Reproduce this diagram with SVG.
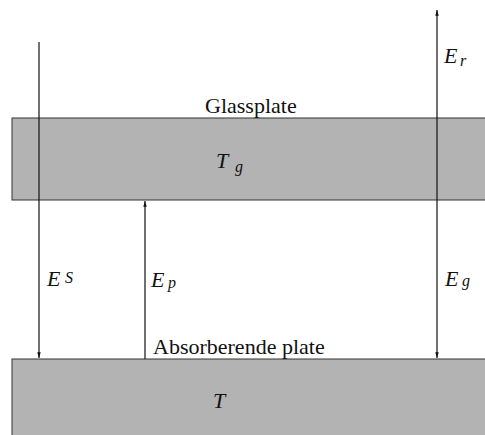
<svg xmlns="http://www.w3.org/2000/svg" width="485" height="435" viewBox="0 0 485 435">
<defs>
<style>
.plate{fill:#b3b3b3;stroke:#333;stroke-width:1}
.ln{stroke:#111;stroke-width:1.2;fill:none}
text{font-family:'Liberation Serif','Times New Roman','DejaVu Serif',serif;fill:#111}
.lbl{font-size:22px}
.it{font-style:italic;font-size:22px}
.sub{font-size:16px}
</style>
<marker id="ah" viewBox="0 0 10 6" refX="10" refY="3" markerWidth="8" markerHeight="3.5" markerUnits="userSpaceOnUse" orient="auto"><path d="M0,0 L10,3 L0,6 z" fill="#111"/></marker>
</defs>
<g id="glassplate">
<rect class="plate" x="12" y="118" width="480" height="82"/>
<text class="lbl" x="205" y="113">Glassplate</text>
<text class="it" x="216" y="168">T</text><text class="it sub" x="235" y="172">g</text>
</g>
<g id="absorber">
<rect class="plate" x="12" y="359" width="480" height="80"/>
<text class="lbl" x="153" y="354">Absorberende plate</text>
<text class="it" x="213" y="408">T</text>
</g>
<g id="connectors">
<line class="ln" x1="39" y1="42" x2="39" y2="358" marker-end="url(#ah)"/>
<line class="ln" x1="145" y1="359" x2="145" y2="201" marker-end="url(#ah)"/>
<line class="ln" x1="437" y1="118" x2="437" y2="10" marker-end="url(#ah)"/>
<line class="ln" x1="437" y1="200" x2="437" y2="358" marker-end="url(#ah)"/>
<line class="ln" x1="437" y1="118" x2="437" y2="200"/>
</g>
<g id="labels">
<text class="it" x="47" y="286">E</text><text class="it sub" x="65" y="283">S</text>
<text class="it" x="151" y="287">E</text><text class="it sub" x="168" y="288">p</text>
<text class="it" x="445" y="286">E</text><text class="it sub" x="462" y="286">g</text>
<text class="it" x="444" y="63">E</text><text class="it sub" x="460" y="66">r</text>
</g>
</svg>
